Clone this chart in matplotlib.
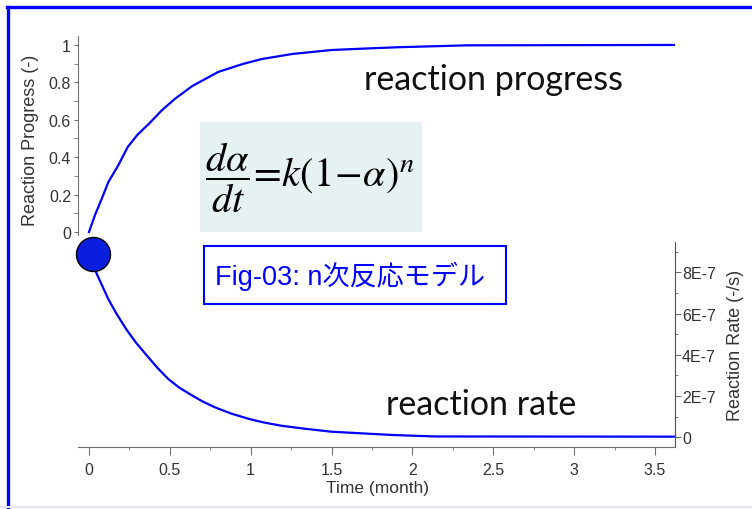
import matplotlib.pyplot as plt
from matplotlib.patches import Rectangle
from matplotlib.lines import Line2D

# values
t_prog = [0.0, 0.037, 0.08, 0.12, 0.18, 0.24, 0.30, 0.37, 0.45, 0.53, 0.64, 0.80, 0.95,
          1.07, 1.26, 1.50, 1.74, 1.92, 2.34, 3.62]
alpha = [0.0, 0.09, 0.18, 0.267, 0.355, 0.455, 0.52, 0.578, 0.65, 0.711, 0.781, 0.856, 0.898,
         0.925, 0.952, 0.973, 0.982, 0.988, 0.998, 1.0]

t_rate = [0.0, 0.05, 0.12, 0.17, 0.23, 0.29, 0.35, 0.42, 0.49, 0.56, 0.64, 0.70, 0.78, 0.88,
          0.99, 1.08, 1.19, 1.33, 1.50, 1.69, 1.88, 2.14, 3.62]
rate_e7 = [8.9, 7.9, 6.7, 6.0, 5.25, 4.6, 4.04, 3.4, 2.83, 2.4, 2.02, 1.75, 1.45, 1.15,
           0.89, 0.72, 0.56, 0.42, 0.27, 0.19, 0.11, 0.04, 0.03]

start_t = 0.025
start_rate_e7 = 8.9

x_ticks = [0, 0.5, 1, 1.5, 2, 2.5, 3, 3.5]
x_labels = ['0', '0.5', '1', '1.5', '2', '2.5', '3', '3.5']
prog_ticks = [0, 0.2, 0.4, 0.6, 0.8, 1]
prog_labels = ['0', '0.2', '0.4', '0.6', '0.8', '1']
rate_ticks_e7 = [0, 2, 4, 6, 8]
rate_labels = ['0', '2E-7', '4E-7', '6E-7', '8E-7']

blue = '#0000ff'
axis_col = '#707070'
text_col = '#333333'

plt.rcParams['font.family'] = ['Liberation Sans', 'Noto Sans CJK JP', 'DejaVu Sans']
plt.rcParams['mathtext.fontset'] = 'stix'

fig = plt.figure(figsize=(7.52, 5.10), dpi=100)
xlim = (-0.068, 3.624)

# upper panel: reaction progress
ax1 = fig.add_axes([0.1037, 0.5373, 0.7939, 0.3902])
ax1.plot(t_prog, alpha, color=blue, lw=1.6)
ax1.set_xlim(*xlim)
ax1.set_ylim(-0.016, 1.048)
for s in ['top', 'right', 'bottom']:
    ax1.spines[s].set_visible(False)
ax1.spines['left'].set_color(axis_col)
ax1.set_xticks([])
ax1.set_yticks(prog_ticks, prog_labels)
ax1.set_yticks([0.1, 0.3, 0.5, 0.7, 0.9], minor=True)
ax1.tick_params(axis='y', which='both', length=3, color=axis_col, labelsize=11.5,
                labelcolor=text_col, pad=2)
ax1.patch.set_alpha(0)

# lower panel: reaction rate
ax2 = fig.add_axes([0.1037, 0.1216, 0.7939, 0.402])
ax2.plot(t_rate, [r * 1e-7 for r in rate_e7], color=blue, lw=1.6)
ax2.plot([start_t], [start_rate_e7 * 1e-7], 'o', ms=24.5, mfc='#0a1ee0', mec='black',
         mew=1.0, clip_on=False, zorder=5)
ax2.set_xlim(*xlim)
ax2.set_ylim(-0.471e-7, 9.48e-7)
for s in ['top', 'left']:
    ax2.spines[s].set_visible(False)
ax2.spines['bottom'].set_color(axis_col)
ax2.spines['right'].set_color('#505050')
ax2.yaxis.tick_right()
ax2.set_yticks([v * 1e-7 for v in rate_ticks_e7], rate_labels)
ax2.set_yticks([v * 1e-7 for v in [1, 3, 5, 7, 9]], minor=True)
ax2.set_xticks(x_ticks, x_labels)
ax2.set_xticks([0.25, 0.75, 1.25, 1.75, 2.25, 2.75, 3.25], minor=True)
ax2.tick_params(axis='y', which='major', length=4, color=axis_col, labelsize=11.5,
                labelcolor=text_col, pad=1)
ax2.tick_params(axis='y', which='minor', length=2, color=axis_col)
ax2.tick_params(axis='x', which='major', length=6, color=axis_col, labelsize=11.5,
                labelcolor=text_col, pad=5)
ax2.tick_params(axis='x', which='minor', length=2, color=axis_col)
ax2.patch.set_alpha(0)

# axis titles
fig.text(31 / 752, 1 - 140 / 510, 'Reaction Progress (-)', rotation=90, ha='center',
         va='center', fontsize=13, color=text_col)
fig.text(736 / 752, 1 - 345 / 510, 'Reaction Rate (-/s)', rotation=90, ha='center',
         va='center', fontsize=13, color=text_col)
fig.text(377 / 752, 1 - 489 / 510, 'Time (month)', ha='center', va='center',
         fontsize=12.5, color=text_col)

# curve captions
fig.text(494 / 752, 1 - 80 / 510, 'reaction progress', ha='center', va='center',
         fontsize=24.5, family='Lato', color='#111111')
fig.text(481 / 752, 1 - 405 / 510, 'reaction rate', ha='center', va='center',
         fontsize=24.5, family='Lato', color='#111111')

# equation box
fig.add_artist(Rectangle((200 / 752, 1 - 233 / 510), 222 / 752, 110 / 510,
                         transform=fig.transFigure, facecolor='#e6f1f1',
                         edgecolor='none', zorder=3))
fig.text(310 / 752, 1 - 178 / 510, r'$\dfrac{d\alpha}{dt}\!=\!k(1\!-\!\alpha)^{n}$',
         ha='center', va='center', fontsize=29, color='black', zorder=4)

# caption box
fig.add_artist(Rectangle((204 / 752, 1 - 305 / 510), 302 / 752, 58 / 510,
                         transform=fig.transFigure, facecolor='white',
                         edgecolor=blue, lw=1.5, zorder=3))
fig.text(215 / 752, 1 - 276 / 510, 'Fig-03: n次反応モデル', ha='left', va='center',
         fontsize=19.5, color=blue, zorder=4)

# frame lines
fig.add_artist(Line2D([7.5 / 752, 7.5 / 752], [0, 1 - 7.5 / 510], color=blue, lw=2.4,
                      transform=fig.transFigure))
fig.add_artist(Line2D([6.5 / 752, 1], [1 - 7.5 / 510, 1 - 7.5 / 510], color=blue, lw=2.4,
                      transform=fig.transFigure))
fig.add_artist(Line2D([0, 1], [2.5 / 510, 2.5 / 510], color='#e6e6f6', lw=1.5,
                      transform=fig.transFigure))

fig.savefig('out.png', dpi=100)
